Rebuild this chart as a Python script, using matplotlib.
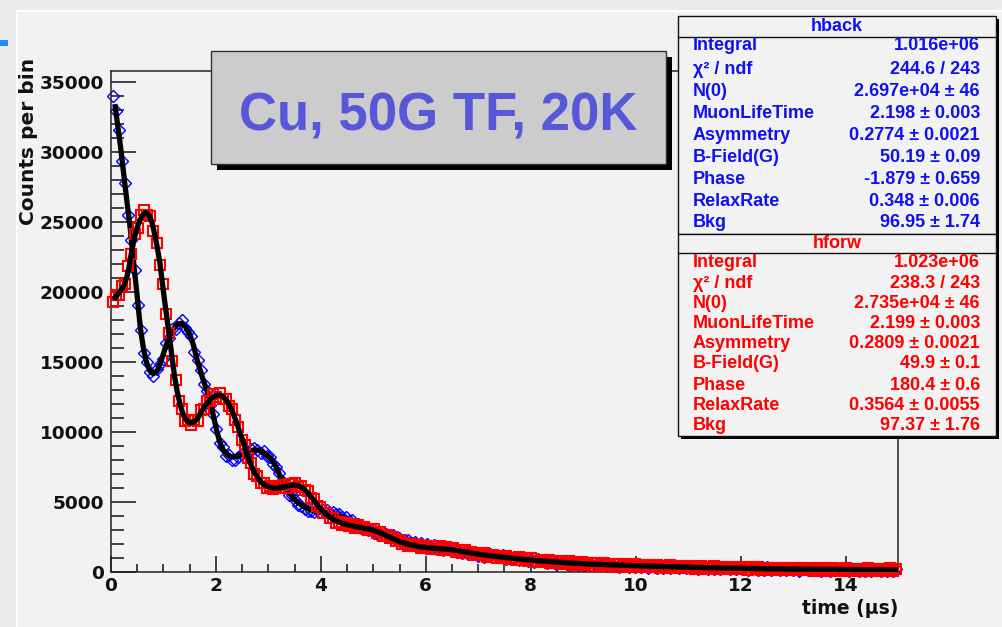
import matplotlib
matplotlib.use("Agg")
import matplotlib.pyplot as plt
from matplotlib.patches import Rectangle
from matplotlib.lines import Line2D
import numpy as np

# histogram binning (time in microseconds)
n_bins = 250
t_range = (0.0, 15.0)

# hback: counts per bin (blue)
back_counts = [
    34000, 32900, 31540, 29350, 27750, 25440, 23690, 21580, 19060, 17240,
    15600, 15020, 14240, 13960, 14460, 14840, 15230, 16330, 16710, 17340,
    17350, 17790, 17980, 17430, 17120, 16820, 15700, 15100, 14430, 13410,
    12920, 11900, 11300, 10230, 9190, 8890, 8290, 8370, 8020, 7990,
    8190, 8390, 8530, 8490, 8790, 8830, 8670, 8520, 8650, 8300,
    8220, 7740, 7460, 7100, 6410, 6130, 5530, 5510, 5110, 4810,
    4690, 4490, 4330, 4360, 4270, 4390, 4300, 4400, 4390, 4240,
    4290, 4140, 4120, 3930, 3920, 3640, 3690, 3460, 3450, 3170,
    3210, 3000, 3080, 2790, 2680, 2820, 2610, 2710, 2540, 2610,
    2380, 2440, 2200, 2280, 2280, 2050, 2120, 1950, 2040, 1840,
    1970, 1780, 1930, 1650, 1760, 1540, 1710, 1620, 1465, 1640,
    1455, 1330, 1515, 1310, 1395, 1450, 1175, 1255, 1085, 1270,
    1270, 1045, 1165, 1040, 1185, 910, 1055, 905, 1060, 830,
    945, 1015, 780, 910, 700, 900, 755, 885, 660, 760,
    840, 595, 760, 615, 760, 530, 675, 730, 520, 655,
    485, 665, 525, 665, 465, 565, 625, 405, 565, 430,
    590, 385, 515, 560, 375, 505, 370, 545, 375, 510,
    320, 445, 495, 310, 455, 315, 480, 275, 415, 440,
    265, 390, 265, 440, 275, 420, 225, 350, 405, 220,
    365, 230, 395, 190, 325, 360, 188, 325, 200, 358,
    202, 328, 155, 292, 328, 155, 302, 178, 325, 132,
    259, 306, 133, 270, 147, 304, 151, 278, 106, 243,
    281, 109, 256, 134, 281, 89, 217, 265, 93, 231,
    109, 267, 114, 242, 70, 208, 247, 75, 223, 101,
    250, 58, 187, 236, 65, 204, 82, 241, 90, 219,
]

# hforw: counts per bin (red)
forw_counts = [
    19300, 19750, 19780, 20430, 20550, 21830, 22700, 24140, 24540, 25440,
    25800, 25460, 25430, 24320, 23490, 21900, 20540, 18430, 17070, 15050,
    13710, 12220, 11610, 10790, 10850, 10460, 10820, 10810, 11530, 11660,
    12170, 12200, 12700, 12520, 12780, 12380, 12380, 11810, 11630, 10830,
    10380, 9450, 9050, 8160, 7760, 6990, 6830, 6330, 6340, 5990,
    6110, 5890, 6120, 5960, 6190, 6010, 6270, 6250, 6340, 6080,
    6150, 5840, 5760, 5290, 5190, 4680, 4620, 4240, 4210, 3840,
    3830, 3530, 3590, 3380, 3510, 3300, 3390, 3170, 3330, 3120,
    3200, 2970, 3090, 3070, 2790, 2860, 2590, 2670, 2430, 2500,
    2240, 2280, 2030, 2100, 1890, 2000, 1850, 1920, 1730, 1800,
    1830, 1670, 1860, 1660, 1850, 1600, 1750, 1620, 1705, 1450,
    1545, 1370, 1535, 1330, 1435, 1200, 1345, 1215, 1345, 1090,
    1210, 1235, 985, 1160, 995, 1140, 915, 1025, 840, 1040,
    865, 975, 760, 970, 800, 710, 885, 715, 870, 640,
    770, 785, 580, 765, 620, 750, 535, 680, 540, 705,
    505, 615, 655, 455, 615, 485, 625, 425, 535, 580,
    390, 555, 405, 570, 385, 495, 540, 345, 495, 370,
    520, 325, 435, 480, 295, 455, 320, 465, 285, 400,
    445, 250, 405, 280, 435, 240, 355, 400, 215, 380,
    255, 400, 205, 330, 365, 180, 338, 215, 360, 188,
    302, 338, 155, 322, 198, 345, 152, 268, 315, 132,
    289, 166, 313, 140, 257, 294, 111, 278, 156, 303,
    111, 229, 276, 94, 251, 129, 277, 105, 223, 261,
    79, 247, 124, 272, 80, 198, 247, 65, 223, 101,
    250, 78, 197, 236, 55, 224, 102, 251, 60, 199,
]

# fitted curves
back_fit_t = [0.08, 0.18, 0.27, 0.37, 0.43, 0.50, 0.56, 0.62, 0.68, 0.75,
              0.81, 0.88, 0.95, 1.04, 1.12, 1.19, 1.27, 1.35, 1.42, 1.50,
              1.57, 1.64, 1.74, 1.83, 1.90, 1.96, 2.02, 2.08, 2.14, 2.22,
              2.30, 2.40, 2.50, 2.60, 2.72, 2.80, 2.88, 2.97, 3.07, 3.15,
              3.23, 3.31, 3.39, 3.48, 3.57, 3.68, 3.80, 3.92, 4.05, 4.20,
              4.35, 4.50, 4.65, 4.80, 4.95, 5.10, 5.25, 5.40, 5.55, 5.70,
              5.85, 6.0, 6.5, 7.0, 7.5, 8.0, 8.5, 9.0, 9.5, 10.0,
              10.5, 11.0, 11.5, 12.0, 12.5, 13.0, 13.5, 14.0, 14.5, 15.0]
back_fit_n = [33200, 30400, 27500, 24400, 22100, 19650, 17400, 15900, 14900, 14300,
              14150, 14350, 15000, 16050, 16900, 17350, 17700, 17750, 17500, 16950,
              16200, 15150, 13900, 12900, 12000, 11000, 10000, 9200, 8700, 8350,
              8220, 8250, 8360, 8550, 8710, 8700, 8570, 8350, 8000, 7450,
              6800, 6200, 5700, 5250, 4930, 4650, 4430, 4350, 4300, 4150,
              3980, 3750, 3500, 3230, 2990, 2800, 2640, 2480, 2310, 2150,
              2000, 1900, 1560, 1270, 1040, 850, 700, 590, 510, 450,
              390, 340, 300, 265, 235, 210, 190, 172, 158, 148]

forw_fit_t = [0.08, 0.15, 0.24, 0.30, 0.34, 0.40, 0.45, 0.50, 0.55, 0.60,
              0.66, 0.72, 0.78, 0.84, 0.88, 0.93, 0.97, 1.02, 1.07, 1.12,
              1.16, 1.21, 1.26, 1.32, 1.38, 1.44, 1.51, 1.58, 1.65, 1.73,
              1.81, 1.89, 1.97, 2.05, 2.13, 2.20, 2.27, 2.33, 2.40, 2.46,
              2.52, 2.58, 2.64, 2.70, 2.76, 2.84, 2.91, 3.00, 3.07, 3.18,
              3.29, 3.38, 3.48, 3.57, 3.67, 3.76, 3.86, 3.95, 4.05, 4.15,
              4.24, 4.35, 4.49, 4.65, 4.81, 4.97, 5.13, 5.30, 5.51, 5.70,
              5.89, 6.05, 6.5, 7.0, 7.5, 8.0, 8.5, 9.0, 9.5, 10.0,
              10.5, 11.0, 11.5, 12.0, 12.5, 13.0, 13.5, 14.0, 14.5, 15.0]
forw_fit_n = [19580, 19900, 20400, 21000, 21700, 23000, 23900, 24600, 25100, 25450,
              25650, 25500, 24950, 24000, 23200, 22100, 20900, 19400, 18000, 16600,
              15400, 14000, 12900, 11900, 11200, 10800, 10640, 10700, 10950, 11500,
              11950, 12300, 12550, 12640, 12550, 12250, 11800, 11300, 10600, 9900,
              9300, 8600, 7900, 7350, 6950, 6500, 6250, 6080, 6000, 5990,
              6050, 6150, 6200, 6150, 5950, 5600, 5150, 4700, 4300, 3980,
              3740, 3550, 3380, 3250, 3130, 3020, 2790, 2500, 2150, 1950,
              1800, 1720, 1590, 1270, 1040, 850, 700, 590, 510, 450,
              390, 340, 300, 265, 235, 210, 190, 172, 158, 148]

# stats boxes
stat_labels = ['Integral', 'χ² / ndf', 'N(0)', 'MuonLifeTime', 'Asymmetry',
               'B-Field(G)', 'Phase', 'RelaxRate', 'Bkg']
back_values = ['1.016e+06', '244.6 / 243', '2.697e+04 ± 46', '2.198 ± 0.003',
               '0.2774 ± 0.0021', '50.19 ± 0.09', '-1.879 ± 0.659',
               '0.348 ± 0.006', '96.95 ± 1.74']
forw_values = ['1.023e+06', '238.3 / 243', '2.735e+04 ± 46', '2.199 ± 0.003',
               '0.2809 ± 0.0021', '49.9 ± 0.1', '180.4 ± 0.6',
               '0.3564 ± 0.0055', '97.37 ± 1.76']

title_text = 'Cu, 50G TF, 20K'

W, H = 1003, 627
plt.rcParams['font.family'] = 'DejaVu Sans'
plt.rcParams['font.weight'] = 'bold'


def fx(x):
    return x / W


def fy(y):
    return 1 - y / H


fig = plt.figure(figsize=(W / 100, H / 100), dpi=100, facecolor='#ebebeb')

# canvas area with a light bevel on top / left
fig.patches.append(Rectangle((fx(18), 0), 1, fy(12), transform=fig.transFigure,
                             facecolor='#f2f2f2', edgecolor='none', zorder=-10))
fig.add_artist(Line2D([fx(17), fx(17)], [0, fy(11)], color='white', lw=1.5,
                      transform=fig.transFigure, zorder=-9))
fig.add_artist(Line2D([fx(17), 1], [fy(11), fy(11)], color='white', lw=1.5,
                      transform=fig.transFigure, zorder=-9))
fig.patches.append(Rectangle((0, fy(46)), fx(8), 6 / H, transform=fig.transFigure,
                             facecolor='#1e8cff', edgecolor='none', zorder=-8))

ax = fig.add_axes([fx(111), fy(572), (898 - 111) / W, (572 - 71) / H])
ax.set_facecolor('#f2f2f2')

edges = np.linspace(t_range[0], t_range[1], n_bins + 1)
centers = 0.5 * (edges[:-1] + edges[1:])

ax.plot(centers, back_counts, linestyle='none', marker='D', markersize=6,
        mfc='none', mec='#0000ff', mew=1.0, clip_on=False, zorder=2)
ax.plot(back_fit_t, back_fit_n, color='black', lw=3.8, zorder=3)
ax.plot(centers, forw_counts, linestyle='none', marker='s', markersize=6.5,
        mfc='none', mec='#ff0000', mew=1.5, clip_on=False, zorder=4)
ax.plot(forw_fit_t, forw_fit_n, color='black', lw=3.8, zorder=5)

ax.set_xlim(0, 15)
ax.set_ylim(0, 35750)
ax.set_xticks(np.arange(0, 15, 2))
ax.set_xticks(np.arange(0, 15.01, 0.5), minor=True)
ax.set_yticks(np.arange(0, 35001, 5000))
ax.set_yticks(np.arange(0, 35001, 1000), minor=True)
ax.tick_params(axis='both', which='both', direction='in', width=1.1,
               colors='#111111', labelsize=13.3, top=False, right=False)
ax.tick_params(axis='y', which='major', length=18, pad=5)
ax.tick_params(axis='y', which='minor', length=9)
ax.tick_params(axis='x', which='major', length=11.5, pad=3.5)
ax.tick_params(axis='x', which='minor', length=5.8)
for s in ax.spines.values():
    s.set_color('#222222')
    s.set_linewidth(1.1)

fig.text(fx(29), fy(58), 'Counts per bin', rotation=90, ha='center', va='top',
         fontsize=14.5, fontweight='bold', color='#111111')
fig.text(fx(898), fy(608), 'time (μs)', ha='right', va='center',
         fontsize=13.5, fontweight='bold', color='#111111')

# title box with shadow
fig.patches.append(Rectangle((fx(217), fy(170)), 455 / W, 113 / H, transform=fig.transFigure,
                             facecolor='black', edgecolor='none', zorder=6))
fig.patches.append(Rectangle((fx(211), fy(164)), 455 / W, 113 / H, transform=fig.transFigure,
                             facecolor='#cccccc', edgecolor='#333333', lw=1, zorder=7))
fig.text(fx(438), fy(131), title_text, ha='center', va='baseline', fontsize=38,
         family='Liberation Sans', fontweight='bold', color='#5757d9', zorder=8)


def stats_box(top, bottom, sep, name, values, rows_y, color):
    fig.patches.append(Rectangle((fx(681), fy(bottom + 3)), 318 / W, (bottom - top) / H,
                                 transform=fig.transFigure, facecolor='black',
                                 edgecolor='none', zorder=6))
    fig.patches.append(Rectangle((fx(678), fy(bottom)), 318 / W, (bottom - top) / H,
                                 transform=fig.transFigure, facecolor='#f2f2f2',
                                 edgecolor='#111111', lw=1, zorder=7))
    fig.add_artist(Line2D([fx(678), fx(996)], [fy(sep), fy(sep)], color='#111111',
                          lw=1, transform=fig.transFigure, zorder=8))
    fig.text(fx(837), fy((top + sep) / 2), name, ha='center', va='center',
             fontsize=13, family='Liberation Sans', fontweight='bold',
             color=color, zorder=9)
    for lab, val, y in zip(stat_labels, values, rows_y):
        fig.text(fx(693), fy(y), lab, ha='left', va='center', fontsize=13,
                 family='Liberation Sans', fontweight='bold', color=color, zorder=9)
        fig.text(fx(980), fy(y), val, ha='right', va='center', fontsize=13,
                 family='Liberation Sans', fontweight='bold', color=color, zorder=9)


stats_box(16, 234, 37, 'hback', back_values,
          [46, 70, 92, 114, 135, 157, 179, 201, 222], '#1010f0')
stats_box(234, 436, 253, 'hforw', forw_values,
          [263, 284, 304, 324, 343, 363, 385, 405, 425], '#ff0000')

fig.savefig('out.png', dpi=100, facecolor=fig.get_facecolor())
